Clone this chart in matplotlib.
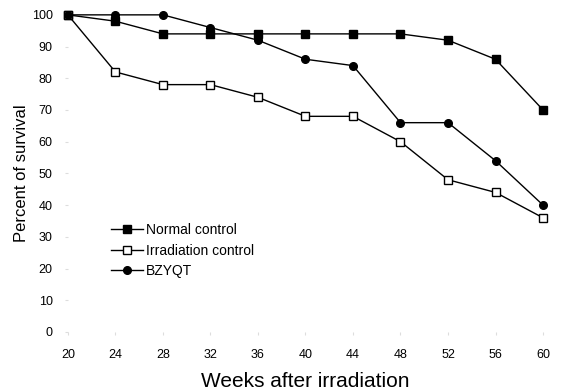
import numpy as np
import matplotlib.pyplot as plt

plt.rcParams['font.family'] = ['Liberation Sans', 'DejaVu Sans']

# weeks after irradiation
weeks = [20, 24, 28, 32, 36, 40, 44, 48, 52, 56, 60]

# percent of survival per group
normal = [100, 98, 94, 94, 94, 94, 94, 94, 92, 86, 70]
irradiation = [100, 82, 78, 78, 74, 68, 68, 60, 48, 44, 36]
bzyqt = [100, 100, 100, 96, 92, 86, 84, 66, 66, 54, 40]

yticks = [0, 10, 20, 30, 40, 50, 60, 70, 80, 90, 100]

fig = plt.figure(figsize=(5.61, 3.91), dpi=100)
ax = fig.add_axes([0.121, 0.151, 0.847, 0.811])

ax.plot(weeks, normal, '-', color='black', lw=1, marker='s', ms=5.5,
        mfc='black', mec='black', label='Normal control')
ax.plot(weeks, irradiation, '-', color='black', lw=1, marker='s', ms=5.5,
        mfc='white', mec='black', mew=1, label='Irradiation control')
ax.plot(weeks, bzyqt, '-', color='black', lw=1, marker='o', ms=5.5,
        mfc='black', mec='black', label='BZYQT')

ax.set_xlim(20, 60)
ax.set_ylim(0, 100)
ax.set_xticks(weeks)
ax.set_yticks(yticks)
ax.tick_params(labelsize=9, length=2, color='#dddddd', pad=10)
ax.tick_params(axis='y', pad=9)
for s in ax.spines.values():
    s.set_visible(False)
for line in ax.get_lines():
    line.set_clip_on(False)

ax.set_xlabel('Weeks after irradiation', fontsize=15, labelpad=8)
ax.set_ylabel('Percent of survival', fontsize=12, labelpad=2)

ax.legend(loc='upper left', bbox_to_anchor=(0.08, 0.36), frameon=False,
          fontsize=10, handlelength=2.3, handletextpad=0.2, labelspacing=0.45,
          borderaxespad=0)

fig.savefig('out.png', dpi=100)
